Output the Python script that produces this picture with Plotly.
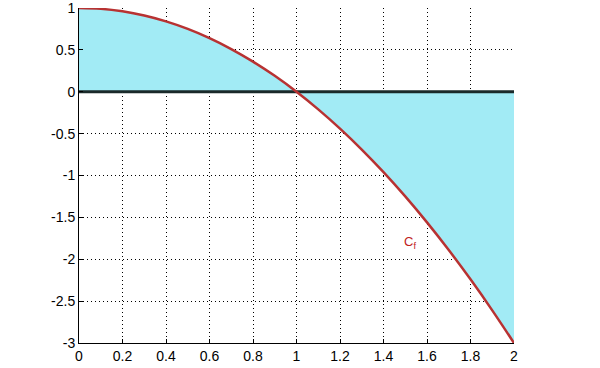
import plotly.graph_objects as go

x_vals = [0, 0.1, 0.2, 0.3, 0.4, 0.5, 0.6, 0.7, 0.8, 0.9, 1.0,
          1.1, 1.2, 1.3, 1.4, 1.5, 1.6, 1.7, 1.8, 1.9, 2.0]
y_vals = [1, 0.99, 0.96, 0.91, 0.84, 0.75, 0.64, 0.51, 0.36, 0.19, 0,
          -0.21, -0.44, -0.69, -0.96, -1.25, -1.56, -1.89, -2.24, -2.61, -3]
zero_vals = [0] * len(x_vals)
x_ticks = [0, 0.2, 0.4, 0.6, 0.8, 1, 1.2, 1.4, 1.6, 1.8, 2]
x_tick_labels = ["0", "0.2", "0.4", "0.6", "0.8", "1", "1.2", "1.4", "1.6", "1.8", "2"]
y_ticks = [-3, -2.5, -2, -1.5, -1, -0.5, 0, 0.5, 1]
y_tick_labels = ["-3", "-2.5", "-2", "-1.5", "-1", "-0.5", "0", "0.5", "1"]

fig = go.Figure()
fig.add_trace(go.Scatter(x=x_vals, y=zero_vals, mode="lines",
                         line=dict(color="rgba(0,0,0,0)", width=0),
                         showlegend=False, hoverinfo="skip"))
fig.add_trace(go.Scatter(x=x_vals, y=y_vals, mode="lines", fill="tonexty",
                         fillcolor="#A2EBF5",
                         line=dict(color="rgba(0,0,0,0)", width=0, shape="spline"),
                         showlegend=False))
fig.add_trace(go.Scatter(x=x_vals, y=zero_vals, mode="lines",
                         line=dict(color="#1a2a2a", width=3),
                         showlegend=False))
fig.add_trace(go.Scatter(x=x_vals, y=y_vals, mode="lines",
                         line=dict(color="#B83232", width=2.5, shape="spline"),
                         showlegend=False))

fig.add_annotation(x=1.52, y=-1.8, text="C<sub>f</sub>", showarrow=False,
                   font=dict(color="#C02020", size=13, family="Liberation Sans"))

axis_common = dict(showgrid=True, gridcolor="black", griddash="1px,3px", gridwidth=1,
                   showline=True, linecolor="black", linewidth=1, mirror=False,
                   ticks="inside", ticklen=4, tickcolor="black", zeroline=False,
                   ticklabeloverflow="allow", automargin=False,
                   tickfont=dict(family="Liberation Sans", size=14, color="black"))

fig.update_xaxes(range=[0, 2], tickvals=x_ticks, ticktext=x_tick_labels, **axis_common)
fig.update_yaxes(range=[-3, 1], tickvals=y_ticks, ticktext=y_tick_labels, **axis_common)

fig.update_layout(width=600, height=368, margin=dict(l=79, r=86, t=8, b=25),
                  plot_bgcolor="white", paper_bgcolor="white")

fig.write_html("out.html")
